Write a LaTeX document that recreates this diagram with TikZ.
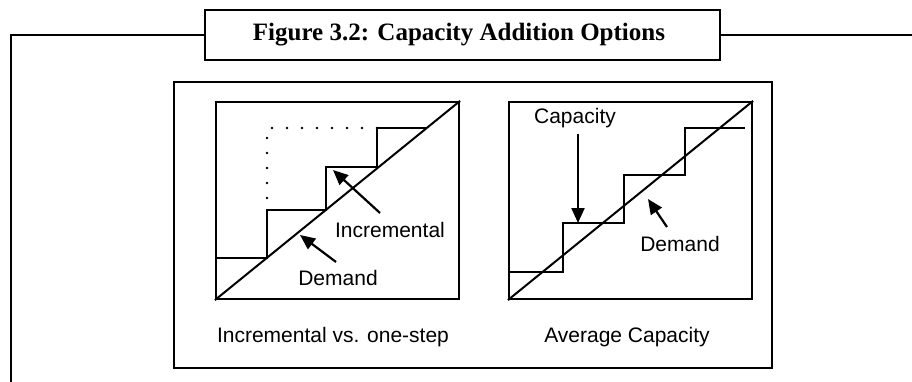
\documentclass[tikz,border=0pt]{standalone}
\usepackage{fontspec}
\newfontfamily\lblfont{Liberation Sans}
\newfontfamily\ttlfont{Liberation Serif}
\usetikzlibrary{arrows.meta}
\begin{document}
\begin{tikzpicture}[x=1pt,y=-1pt,
  frame/.style={draw=black,line width=2.2pt},
  box/.style={draw=black,line width=2.2pt,inner sep=0pt},
  lbl/.style={font=\lblfont\fontsize{21}{24}\selectfont,inner sep=0pt,anchor=base},
  stair/.style={draw=black,line width=2.2pt},
  diag/.style={draw=black,line width=2pt},
  ptr/.style={draw=black,line width=2.2pt,-{Triangle[length=15pt,width=13pt]}},
  dots/.style={draw=black,line width=2.6pt,dash pattern=on 0pt off 15pt,line cap=round}]
\useasboundingbox (0,0) rectangle (912,382);
% title
\node[box, minimum width=515pt, minimum height=50pt] (title) at (462.5,35) {};
\node[font=\ttlfont\bfseries\fontsize{25}{29}\selectfont, inner sep=0pt, anchor=base] (titletext) at (459,41) {Figure 3.2: Capacity Addition Options};
\coordinate (lcorner) at (11,35);
\coordinate (lbottom) at (11,383);
\coordinate (rend) at (913,35);
\draw[frame] (lbottom) -- (lcorner) -- (title.west);
\draw[frame] (title.east) -- (rend);
% inner frame
\node[box, minimum width=598pt, minimum height=286pt] (outer) at (473,225) {};
% charts
\node[box, minimum width=243pt, minimum height=197pt] (chartA) at (337.5,200.5) {};
\node[box, minimum width=243pt, minimum height=197pt] (chartB) at (630.5,200.5) {};
\draw[diag] (chartA.south west) -- (chartA.north east);
\draw[diag] (chartB.south west) -- (chartB.north east);
% left stairs
\draw[stair] (216,258) -- (267,258) -- (267,210) -- (326,210) -- (326,167) -- (377,167) -- (377,128) -- (427,128);
\draw[dots] (377,128) -- (267,128) -- (267,210);
% right stairs
\draw[stair] (509,272) -- (563,272) -- (563,223) -- (624,223) -- (624,175) -- (685,175) -- (685,128) -- (745,128);
% labels
\node[lbl] (incA) at (390,237) {Incremental};
\node[lbl] (demA) at (338,285) {Demand};
\node[lbl] (capA) at (333,342) {Incremental vs. one-step};
\node[lbl] (capB) at (575,124) {Capacity};
\node[lbl] (demB) at (680,251) {Demand};
\node[lbl] (capC) at (627,342) {Average Capacity};
% arrows
\coordinate (incTail) at (380,213); \coordinate (incTip) at (333,170);
\coordinate (demATail) at (336,262); \coordinate (demATip) at (300,235);
\coordinate (capTail) at (578,134); \coordinate (capTip) at (578,223);
\coordinate (demBTail) at (667,227); \coordinate (demBTip) at (648,199);
\draw[ptr] (incTail) -- (incTip);
\draw[ptr] (demATail) -- (demATip);
\draw[ptr] (capTail) -- (capTip);
\draw[ptr] (demBTail) -- (demBTip);
\end{tikzpicture}
\end{document}
